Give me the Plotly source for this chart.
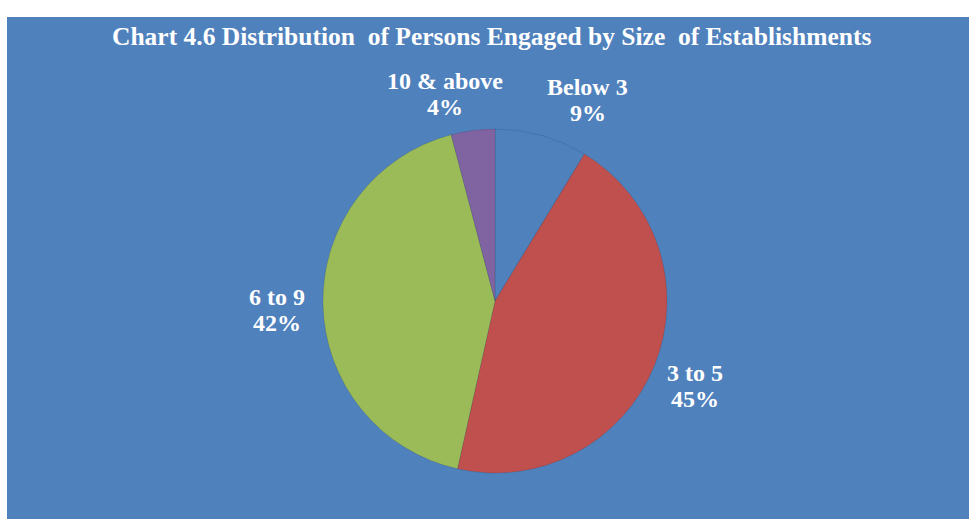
import math
import plotly.graph_objects as go

labels = ["Below 3", "3 to 5", "6 to 9", "10 & above"]
values = [8.7, 44.8, 42.4, 4.1]
colors = ["#4F81BD", "#C0504D", "#9BBB59", "#8064A2"]
label_nudge = [35, 2, -4, -23]

W, H = 969, 519
cx, cy, R = 495, 301, 172
label_r = 214
line_gap = 13

fig = go.Figure()
fig.add_trace(go.Pie(
    labels=labels, values=values, sort=False, direction="clockwise", rotation=0,
    marker=dict(colors=colors, line=dict(color="rgba(0,0,0,0.10)", width=1)),
    textinfo="none", hoverinfo="label+percent", showlegend=False,
    domain=dict(x=[(cx - R) / W, (cx + R) / W], y=[(H - cy - R) / H, (H - cy + R) / H]),
))

# background panel
fig.add_shape(type="rect", xref="paper", yref="paper", x0=7 / W, x1=1, y0=0, y1=(H - 17) / H,
              fillcolor="#4F81BD", line=dict(width=0), layer="below")

# labels positioned at slice mid-angles (name line and percent line)
font = dict(family="Liberation Serif", size=24, color="white")
total = sum(values)
cum = 0
for lab, v, nx in zip(labels, values, label_nudge):
    mid = (cum + v / 2) / total * 2 * math.pi
    cum += v
    px = cx + label_r * math.sin(mid)
    py = cy - label_r * math.cos(mid) + 5
    pct = round(v / total * 100)
    for txt, ys in ((f"<b>{lab}</b>", line_gap), (f"<b>{pct}%</b>", -line_gap)):
        fig.add_annotation(x=px / W, y=1 - py / H, xref="paper", yref="paper",
                           xshift=nx, yshift=ys, text=txt, showarrow=False, font=font,
                           xanchor="center", yanchor="middle")

fig.add_annotation(x=491 / W, y=1 - 37 / H, xref="paper", yref="paper",
                   text="<b>Chart 4.6 Distribution  of Persons Engaged by Size  of Establishments</b>",
                   showarrow=False, xanchor="center", yanchor="middle",
                   font=dict(family="Liberation Serif", size=25.5, color="white"))

fig.update_layout(width=W, height=H, margin=dict(l=0, r=0, t=0, b=0),
                  paper_bgcolor="white", plot_bgcolor="white")

fig.write_html("out.html", config={"displayModeBar": False})
with open("out.html", encoding="utf-8") as f:
    html = f.read()
html = html.replace("<head>", "<head><style>html,body{margin:0;padding:0;overflow:hidden;}</style>", 1)
with open("out.html", "w", encoding="utf-8") as f:
    f.write(html)
